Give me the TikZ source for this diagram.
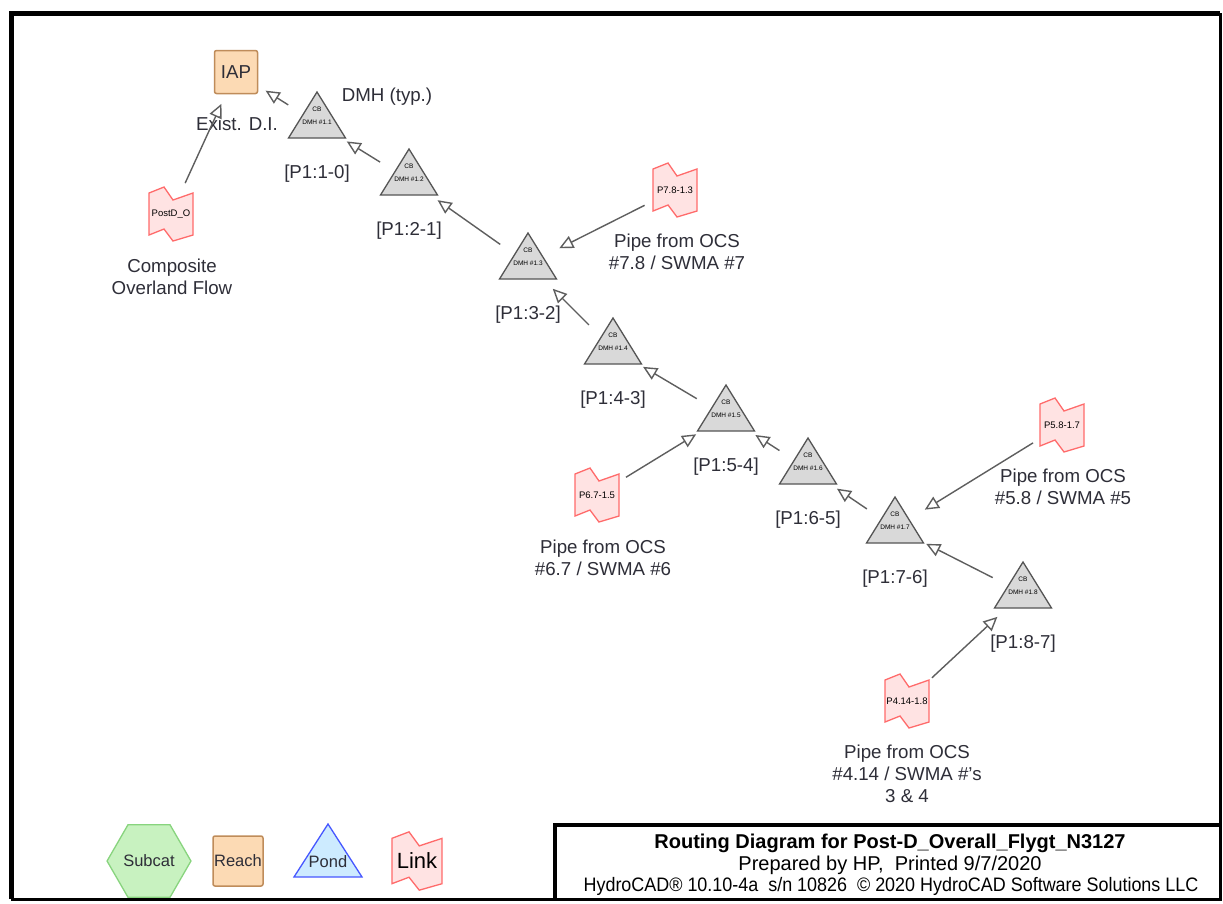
\documentclass[tikz,border=0pt]{standalone}
\usepackage{fontspec}
\setmainfont{Liberation Sans}
\usepackage{tikz}
\usetikzlibrary{calc}
\usetikzlibrary{arrows.meta}
\usetikzlibrary{shapes.geometric}

\definecolor{pondgray}{HTML}{D9D9D9}
\definecolor{pondedge}{HTML}{555555}
\definecolor{linkfill}{HTML}{FFE3E3}
\definecolor{linkedge}{HTML}{FF6B6B}
\definecolor{reachfill}{HTML}{FCDAB4}
\definecolor{reachedge}{HTML}{BF8C5A}
\definecolor{subfill}{HTML}{C8F2C0}
\definecolor{subedge}{HTML}{88D47E}
\definecolor{pondblue}{HTML}{CDEBFF}
\definecolor{pondblueedge}{HTML}{4657FF}
\definecolor{txt}{HTML}{2E2E38}
\definecolor{flowgray}{HTML}{5E5E5E}

\tikzset{
  lbl/.style={text=txt, font=\fontsize{18.7}{22}\selectfont, align=center, inner sep=0pt},
  legtxt/.style={text=txt, font=\fontsize{16.5}{18}\selectfont, inner sep=0pt},
  cbtext/.style={font=\fontsize{6.5}{13}\selectfont, align=center, inner sep=0pt},
  linktxt/.style={font=\fontsize{9.5}{11}\selectfont, inner sep=0pt},
  pondpt/.style={inner sep=0pt, minimum size=0pt},
  tri/.style={draw=pondedge, fill=pondgray, line width=1.3pt},
  linkline/.style={draw=linkedge, fill=linkfill, line width=1.3pt},
  reach/.style={draw=reachedge, fill=reachfill, line width=1.5pt, rounded corners=2pt, minimum size=43pt, inner sep=0pt},
  flow/.style={draw=flowgray, line width=1.4pt, shorten <=34pt, shorten >=35pt, -{Triangle[open, length=14pt, width=13pt]}},
  rim/.style={line width=4pt},
  linkflag/.pic={\draw[linkline] (-22,-21) -- (-7,-27) -- (2,-14) -- (22,-21) -- (22,21) -- (2,27) -- (-7,15) -- (-22,21) -- cycle;}
}

\begin{document}
\begin{tikzpicture}[x=1pt, y=-1pt]
\fill[white] (0,0) rectangle (1223,903);
\useasboundingbox (0,0) rectangle (1223,903);

% frame and title block
\draw[line width=5pt] (11,899) -- (11,13) -- (1220,13);
\draw[line width=3pt] (1220,13) -- (1220,899) -- (11,899);
\draw[rim] (555,899) -- (555,825) -- (1220,825);
\node[font=\bfseries\fontsize{20}{24}\selectfont, inner sep=0pt] (ttl) at (890,843) {Routing Diagram for Post-D\_Overall\_Flygt\_N3127};
\node[font=\fontsize{20}{24}\selectfont, inner sep=0pt] (prep) at (890,865) {Prepared by HP,\ \ Printed 9/7/2020};
\node[font=\fontsize{19.5}{24}\selectfont, inner sep=0pt] (soft) at (891,886) {\scalebox{0.92}[1]{HydroCAD® 10.10-4a\ \ s/n 10826\ \ © 2020 HydroCAD Software Solutions LLC}};

% outlet
\node[reach, lbl] (iap) at (236,72) {IAP};
\node[lbl] (exist) at (237,124) {Exist. D.I.};
\node[lbl] (typ) at (387,97) {DMH (typ.)};

% ponds along the line
\foreach \k/\x/\y [evaluate=\k as \j using int(\k-1)] in {1/317/123, 2/409/180, 3/528/264, 4/613/349, 5/726/416, 6/808/469, 7/895/528, 8/1023/593} {
  \draw[tri] (\x,\y-31) -- ++(28.5,46) -- ++(-57,0) -- cycle;
  \node[pondpt] (t\k) at (\x,\y) {};
  \node[cbtext] (cb\k) at (\x,\y-7.5) {CB\\DMH \#1.\k};
  \node[lbl] (p\k) at (\x,\y+51) {[P1:\k-\j]};
}

% links
\foreach \n/\x/\y/\c in {ls/171/214/PostD\_O, l7/675/190/P7.8-1.3, l6/597/495/P6.7-1.5, l5/1062/425/P5.8-1.7, l4/907/701/P4.14-1.8} {
  \pic at (\x,\y) {linkflag};
  \node[linktxt] (\n) at (\x,\y) {\c};
}
\node[lbl] (lsn) at (172,277) {Composite\\Overland Flow};
\node[lbl] (l7n) at (677,252) {Pipe from OCS\\\#7.8 / SWMA \#7};
\node[lbl] (l6n) at (603,558) {Pipe from OCS\\\#6.7 / SWMA \#6};
\node[lbl] (l5n) at (1063,487) {Pipe from OCS\\\#5.8 / SWMA \#5};
\node[lbl] (l4n) at (907,774) {Pipe from OCS\\\#4.14 / SWMA \#'s\\3 \& 4};

% routing
\draw[flow] (ls.center) -- (iap.center);
\foreach \a/\b in {t1/iap, t2/t1, t3/t2, l7/t3, t4/t3, t5/t4, l6/t5, t6/t5, t7/t6, l5/t7, t8/t7, l4/t8}
  \draw[flow] (\a.center) -- (\b.center);

% legend
\node[regular polygon, regular polygon sides=6, minimum size=68pt, draw=subedge, fill=subfill, line width=1.3pt, legtxt] (subcat) at (149,861) {Subcat};
\node[reach, minimum size=50pt, legtxt] (reachleg) at (238,861) {Reach};
\draw[draw=pondblueedge, fill=pondblue, line width=1.3pt] (328,824) -- (362,877) -- (294,877) -- cycle;
\node[legtxt] (pondleg) at (328,862) {Pond};
\pic[xscale=1.14, yscale=1.08] at (417,861) {linkflag};
\node[font=\fontsize{22}{24}\selectfont, inner sep=0pt] (linkleg) at (417,861) {Link};
\end{tikzpicture}
\end{document}
